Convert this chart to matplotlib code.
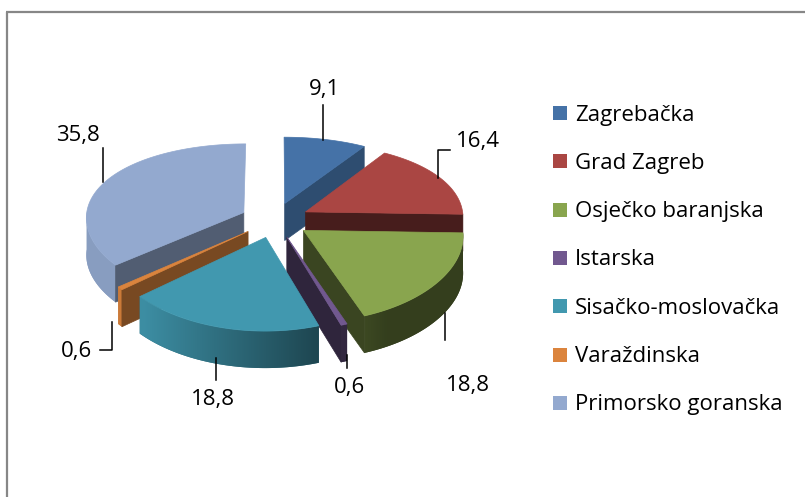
import numpy as np
import matplotlib.pyplot as plt
from matplotlib.patches import Polygon, Rectangle
from matplotlib.colors import to_rgb

# podaci
regions = ['Zagrebačka', 'Grad Zagreb', 'Osječko baranjska', 'Istarska',
           'Sisačko-moslovačka', 'Varaždinska', 'Primorsko goranska']
shares = [9.1, 16.4, 18.8, 0.6, 18.8, 0.6, 35.8]
colors = ['#4572A7', '#AA4643', '#89A54E', '#71588F', '#4198AF', '#DB843D', '#93A9CF']

# položaji oznaka (tekst) i linija vodilja, u pikselima
label_xy = [(324, 90), (478, 142), (468, 386), (349, 388), (213, 400), (76, 352), (78, 135)]
leaders = [
    [(323, 105), (323, 140)],
    [(450, 150), (438, 150), (438, 178)],
    [(445, 313), (445, 340)],
    [(347, 355), (347, 368)],
    [(216, 358), (216, 380)],
    [(112, 322), (112, 350), (100, 350)],
    [(103, 148), (103, 182)],
]

# geometrija "3D" pite
CX, CY = 275, 220
RX, RY = 158, 80
KX, KY = 0.06, 0.12
DEPTH = 37
EXPLODE = 0.22

FONT = 'Open Sans'
FS = 16


def project(u, v):
    u = np.asarray(u, float)
    v = np.asarray(v, float)
    return CX + RX * u * (1 - KX * v), CY - RY * v * (1 - KY * v)


def shade(c, m):
    r, g, b = to_rgb(c)
    return np.clip(np.array([r, g, b]) * m, 0, 1)


fig = plt.figure(figsize=(8.05, 4.97), dpi=100)
ax = fig.add_axes([0, 0, 1, 1])
ax.axis('off')

# okvir grafikona (vidljivi samo gornji i lijevi rub)
ax.plot([6, 805], [12, 12], color='#878787', lw=1.6, solid_capstyle='butt')
ax.plot([7, 7], [12, 497], color='#878787', lw=1.6, solid_capstyle='butt')

total = sum(shares)
bounds = np.concatenate([[0], np.cumsum(shares)]) / total * 360

slices = []
for i in range(len(shares)):
    t1, t2 = bounds[i], bounds[i + 1]
    mid = np.radians((t1 + t2) / 2)
    slices.append((EXPLODE * np.cos(mid), i, t1, t2, EXPLODE * np.sin(mid)))

z = 2.0
tops = []
for ov, i, t1, t2, ou in sorted(slices, key=lambda s: -s[0]):
    col = colors[i]
    px, py = project(ou, ov)

    # bočni zid (samo prednja polovica), s prijelazom boje
    a, b = max(t1, 90), min(t2, 270)
    if a < b:
        th = np.radians(np.linspace(a, b, max(int(b - a), 2) + 1))
        xs, ys = project(ou + np.sin(th), ov + np.cos(th))
        pts = list(zip(xs, ys)) + list(zip(xs[::-1], ys[::-1] + DEPTH))
        m = np.clip(0.6 - 0.45 * np.sin(th), 0.38, 0.93)
        cols = np.array([shade(col, mm) for mm in m])
        order = np.argsort(xs)
        x0, x1 = xs.min() - 1, xs.max() + 1
        gx = np.linspace(x0, x1, max(int(x1 - x0), 2))
        img = np.stack([np.interp(gx, xs[order], cols[order, c]) for c in range(3)], axis=-1)[None, :, :]
        y0, y1 = ys.min() - 1, ys.max() + DEPTH + 1
        wall = Polygon(pts, closed=True, facecolor=tuple(cols[len(cols) // 2]),
                       edgecolor='none', zorder=z)
        ax.add_patch(wall)
        im = ax.imshow(img, extent=[x0, x1, y1, y0], aspect='auto',
                       interpolation='bilinear', zorder=z + 0.0001)
        im.set_clip_path(wall)
        z += 0.001

    # radijalne plohe
    for t, start in ((t1, True), (t2, False)):
        tr = np.radians(t)
        s = np.sin(tr)
        if (start and s < -1e-6) or ((not start) and s > 1e-6):
            rx_, ry_ = project(ou + np.sin(tr), ov + np.cos(tr))
            m = 0.55 if start else 0.42 + 0.3 * max(np.cos(tr), 0)
            c = tuple(shade(col, m))
            quad = [(px, py), (rx_, ry_), (rx_, ry_ + DEPTH), (px, py + DEPTH)]
            ax.add_patch(Polygon(quad, closed=True, facecolor=c, edgecolor=c,
                                 lw=0.5, zorder=z))
            z += 0.001

    # gornja ploha
    th = np.radians(np.linspace(t1, t2, max(int(t2 - t1), 2) + 1))
    xs, ys = project(ou + np.sin(th), ov + np.cos(th))
    tops.append(Polygon([(px, py)] + list(zip(xs, ys)), closed=True,
                        facecolor=col, edgecolor=col, lw=0.5, zorder=3))

for p in tops:
    ax.add_patch(p)

# oznake podataka
for val, (x, y), line in zip(shares, label_xy, leaders):
    lx, ly = zip(*line)
    ax.plot(lx, ly, color='black', lw=1.1, zorder=4)
    ax.text(x, y, f'{val:.1f}'.replace('.', ','), ha='center', va='center',
            fontsize=FS, family=FONT, zorder=5)

# legenda
for k, (name, col) in enumerate(zip(regions, colors)):
    yc = 113 + k * 48.3
    ax.add_patch(Rectangle((553, yc - 7), 14, 14, facecolor=col, edgecolor='none'))
    ax.text(575, yc + 7.5, name, ha='left', va='baseline', fontsize=FS, family=FONT)

ax.set_xlim(0, 805)
ax.set_ylim(497, 0)

fig.savefig('out.png', dpi=100)
